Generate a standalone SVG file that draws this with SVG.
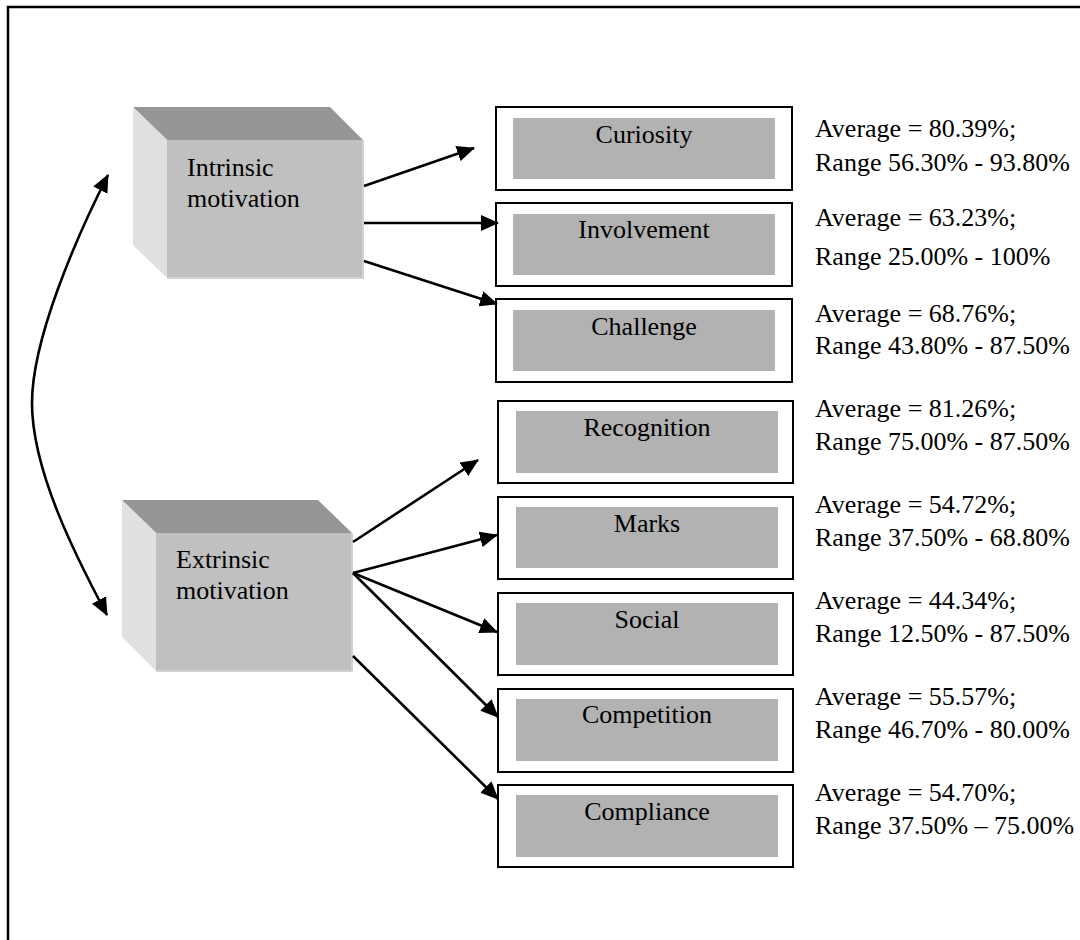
<svg xmlns="http://www.w3.org/2000/svg" width="1080" height="940" viewBox="0 0 1080 940">
<style>
  text { font-family: "Liberation Serif", "Times New Roman", serif; font-size: 26px; fill: #000; }
  .lbl { text-anchor: middle; }
  .outer { fill: #fff; stroke: #000; stroke-width: 2; }
  .inner { fill: #b2b2b2; }
  .front { fill: #c0c0c0; }
  .top { fill: #969696; }
  .side { fill: #e0e0e0; }
  .edge { fill: none; stroke: #d2d2d2; stroke-width: 2; }
  .conn { fill: none; stroke: #000; stroke-width: 2.6; marker-end: url(#ah); }
</style>
<defs>
  <marker id="ah" viewBox="0 0 18 16" refX="17" refY="8" markerWidth="18" markerHeight="16" markerUnits="userSpaceOnUse" orient="auto-start-reverse">
    <path d="M0,0 L18,8 L0,16 z" fill="#000"/>
  </marker>
</defs>
<rect x="0" y="0" width="1080" height="940" fill="#fff"/>
<rect x="8" y="7" width="1200" height="1100" fill="none" stroke="#000" stroke-width="2.5"/>

<g id="intrinsic">
  <polygon class="top" points="133,107 330,107 363,140 167,140"/>
  <polygon class="side" points="133,107 167,140 167,278 133,245"/>
  <rect class="front" x="167" y="140" width="196" height="138"/>
  <polyline class="edge" points="363,140 363,278 167,278"/>
  <text x="187" y="176">Intrinsic</text>
  <text x="187" y="207">motivation</text>
</g>

<g id="extrinsic">
  <polygon class="top" points="122,500 318,500 352,533 156,533"/>
  <polygon class="side" points="122,500 156,533 156,671 122,637"/>
  <rect class="front" x="156" y="533" width="196" height="138"/>
  <polyline class="edge" points="352,533 352,671 156,671"/>
  <text x="176" y="568">Extrinsic</text>
  <text x="176" y="599">motivation</text>
</g>

<g id="curiosity">
  <rect class="outer" x="496" y="107" width="296" height="83"/>
  <rect class="inner" x="513" y="118" width="262" height="61"/>
  <text class="lbl" x="644" y="143">Curiosity</text>
  <text x="815" y="137">Average = 80.39%;</text>
  <text x="815" y="171">Range 56.30% - 93.80%</text>
</g>
<g id="involvement">
  <rect class="outer" x="496" y="203" width="296" height="83"/>
  <rect class="inner" x="513" y="214" width="262" height="61"/>
  <text class="lbl" x="644" y="238">Involvement</text>
  <text x="815" y="226">Average = 63.23%;</text>
  <text x="815" y="265">Range 25.00% - 100%</text>
</g>
<g id="challenge">
  <rect class="outer" x="496" y="299" width="296" height="83"/>
  <rect class="inner" x="513" y="310" width="262" height="61"/>
  <text class="lbl" x="644" y="335">Challenge</text>
  <text x="815" y="322">Average = 68.76%;</text>
  <text x="815" y="354">Range 43.80% - 87.50%</text>
</g>
<g id="recognition">
  <rect class="outer" x="498" y="401" width="295" height="82"/>
  <rect class="inner" x="516" y="411" width="262" height="62"/>
  <text class="lbl" x="647" y="436">Recognition</text>
  <text x="815" y="417">Average = 81.26%;</text>
  <text x="815" y="450">Range 75.00% - 87.50%</text>
</g>
<g id="marks">
  <rect class="outer" x="498" y="497" width="295" height="82"/>
  <rect class="inner" x="516" y="507" width="262" height="61"/>
  <text class="lbl" x="647" y="532">Marks</text>
  <text x="815" y="513">Average = 54.72%;</text>
  <text x="815" y="546">Range 37.50% - 68.80%</text>
</g>
<g id="social">
  <rect class="outer" x="498" y="593" width="295" height="82"/>
  <rect class="inner" x="516" y="603" width="262" height="62"/>
  <text class="lbl" x="647" y="628">Social</text>
  <text x="815" y="609">Average = 44.34%;</text>
  <text x="815" y="642">Range 12.50% - 87.50%</text>
</g>
<g id="competition">
  <rect class="outer" x="498" y="689" width="295" height="83"/>
  <rect class="inner" x="516" y="699" width="262" height="62"/>
  <text class="lbl" x="647" y="723">Competition</text>
  <text x="815" y="705">Average = 55.57%;</text>
  <text x="815" y="738">Range 46.70% - 80.00%</text>
</g>
<g id="compliance">
  <rect class="outer" x="498" y="785" width="295" height="82"/>
  <rect class="inner" x="516" y="795" width="262" height="62"/>
  <text class="lbl" x="647" y="820">Compliance</text>
  <text x="815" y="801">Average = 54.70%;</text>
  <text x="815" y="834">Range 37.50% – 75.00%</text>
</g>

<g id="connectors">
  <line class="conn" x1="364" y1="186" x2="474" y2="148"/>
  <line class="conn" x1="364" y1="223" x2="498" y2="223"/>
  <line class="conn" x1="364" y1="261" x2="497" y2="304"/>
  <line class="conn" x1="353" y1="542" x2="478" y2="460"/>
  <line class="conn" x1="353" y1="573" x2="497" y2="535"/>
  <line class="conn" x1="353" y1="573" x2="497" y2="632"/>
  <line class="conn" x1="353" y1="573" x2="498" y2="717"/>
  <line class="conn" x1="353" y1="656" x2="498" y2="799"/>
  <path class="conn" style="marker-start: url(#ah);" d="M108,175 C75,240 32,340 32,403 C32,470 75,555 107,615"/>
</g>
</svg>
